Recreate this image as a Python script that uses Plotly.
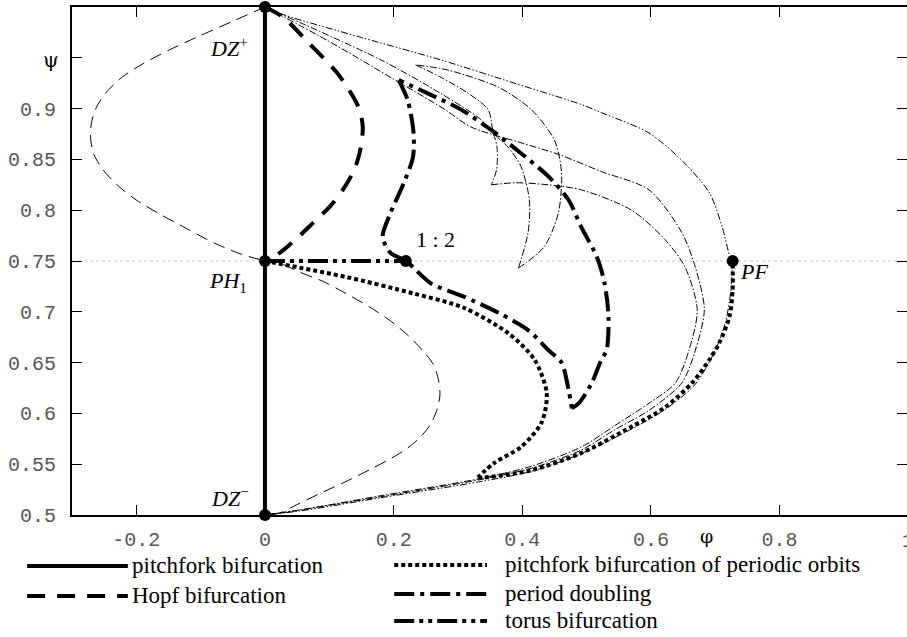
import plotly.graph_objects as go

# ---------------- data ----------------
pitchfork_phi = [0.0, 0.0]
pitchfork_psi = [0.5, 1.0]

hopf_phi = [0.0, 0.028, 0.069, 0.111, 0.131, 0.147, 0.152, 0.149, 0.139, 0.121, 0.100, 0.074, 0.049, 0.023, 0.0]
hopf_psi = [1.0, 0.990, 0.964, 0.936, 0.918, 0.899, 0.882, 0.862, 0.840, 0.820, 0.803, 0.787, 0.772, 0.758, 0.75]

hopf2_up_phi = [0.0, -0.050, -0.100, -0.148, -0.190, -0.224, -0.248, -0.263, -0.270, -0.271, -0.266, -0.252,
                -0.230, -0.200, -0.163, -0.122, -0.080, -0.038, 0.0]
hopf2_up_psi = [1.0, 0.986, 0.972, 0.958, 0.944, 0.930, 0.915, 0.900, 0.885, 0.870, 0.855, 0.840,
                0.825, 0.810, 0.796, 0.782, 0.768, 0.757, 0.75]

hopf2_lo_phi = [0.0, 0.023, 0.054, 0.090, 0.126, 0.162, 0.193, 0.222, 0.245, 0.262, 0.270, 0.272, 0.267,
                0.257, 0.242, 0.222, 0.197, 0.167, 0.126, 0.085, 0.049, 0.023, 0.0]
hopf2_lo_psi = [0.75, 0.748, 0.739, 0.730, 0.718, 0.705, 0.692, 0.677, 0.662, 0.648, 0.632, 0.618, 0.603,
                0.589, 0.577, 0.566, 0.556, 0.546, 0.533, 0.521, 0.510, 0.502, 0.5]

# period doubling (closed loop, split at cusps)
pd_a_phi = [0.208, 0.222, 0.231, 0.230, 0.216, 0.195, 0.183, 0.195, 0.219, 0.258, 0.309, 0.363, 0.409, 0.441, 0.461, 0.472, 0.477]
pd_a_psi = [0.928, 0.908, 0.876, 0.852, 0.827, 0.797, 0.774, 0.758, 0.75, 0.728, 0.715, 0.699, 0.682, 0.662, 0.650, 0.623, 0.605]
pd_b_phi = [0.477, 0.488, 0.508, 0.523, 0.531, 0.534, 0.528, 0.516, 0.492, 0.472, 0.441, 0.398, 0.356, 0.305, 0.253, 0.208]
pd_b_psi = [0.605, 0.610, 0.630, 0.653, 0.662, 0.695, 0.728, 0.754, 0.783, 0.810, 0.833, 0.856, 0.877, 0.899, 0.915, 0.928]

# torus bifurcation
torus_phi = [0.0, 0.219]
torus_psi = [0.75, 0.75]

# pitchfork bifurcation of periodic orbits
pfp_a_phi = [0.0, 0.128, 0.231, 0.309, 0.378, 0.419, 0.438, 0.430, 0.398, 0.356, 0.331]
pfp_a_psi = [0.75, 0.734, 0.718, 0.704, 0.679, 0.653, 0.620, 0.591, 0.567, 0.551, 0.537]
pfp_b_phi = [0.331, 0.341, 0.414, 0.492, 0.570, 0.622, 0.664, 0.691, 0.706, 0.722, 0.727, 0.727]
pfp_b_psi = [0.537, 0.537, 0.544, 0.561, 0.587, 0.606, 0.630, 0.653, 0.669, 0.695, 0.721, 0.75]

# thin torus-type curve DZ+ -> PF -> DZ-
t1_a_phi = [0.0, 0.031, 0.150, 0.273, 0.388, 0.492, 0.523, 0.597, 0.648, 0.691, 0.711, 0.723, 0.727]
t1_a_psi = [1.0, 0.992, 0.970, 0.948, 0.925, 0.904, 0.896, 0.876, 0.849, 0.817, 0.783, 0.754, 0.75]
t1_b_phi = [0.727, 0.724, 0.716, 0.700, 0.668, 0.620, 0.568, 0.490, 0.414, 0.336, 0.180, 0.055, 0.0]
t1_b_psi = [0.75, 0.72, 0.69, 0.662, 0.628, 0.603, 0.584, 0.560, 0.543, 0.533, 0.517, 0.504, 0.5]

# thin period-doubling-type curves
b1_phi = [0.0, 0.10, 0.20, 0.28, 0.32, 0.40, 0.456, 0.523, 0.597, 0.648, 0.669, 0.683, 0.669, 0.648, 0.597, 0.544, 0.492, 0.414, 0.336, 0.180, 0.055, 0.0]
b1_psi = [1.0, 0.966, 0.929, 0.899, 0.882, 0.866, 0.855, 0.838, 0.820, 0.778, 0.744, 0.702, 0.662, 0.630, 0.603, 0.584, 0.564, 0.546, 0.535, 0.518, 0.505, 0.5]

b2_a_phi = [0.0, 0.18, 0.273, 0.336, 0.355, 0.361, 0.360, 0.352]
b2_a_psi = [1.0, 0.948, 0.915, 0.889, 0.875, 0.860, 0.840, 0.825]
b2_b_phi = [0.352, 0.390, 0.440, 0.492, 0.570, 0.622, 0.653, 0.672, 0.659, 0.638, 0.597, 0.544, 0.492, 0.414, 0.336, 0.180, 0.055, 0.0]
b2_b_psi = [0.825, 0.827, 0.825, 0.820, 0.800, 0.771, 0.744, 0.702, 0.662, 0.630, 0.610, 0.588, 0.567, 0.548, 0.536, 0.519, 0.505, 0.5]

lens_a_phi = [0.234, 0.273, 0.316, 0.347, 0.356, 0.378, 0.398, 0.411, 0.409, 0.394]
lens_a_psi = [0.943, 0.931, 0.915, 0.899, 0.876, 0.862, 0.843, 0.810, 0.778, 0.743]
lens_b_phi = [0.394, 0.434, 0.456, 0.461, 0.450, 0.414, 0.363, 0.284, 0.234]
lens_b_psi = [0.743, 0.764, 0.797, 0.837, 0.869, 0.899, 0.921, 0.938, 0.943]

# special points: DZ+, PH1, DZ-, 1:2, PF
pts_phi = [0.0, 0.0, 0.0, 0.219, 0.727]
pts_psi = [1.0, 0.75, 0.5, 0.75, 0.75]

x_tickvals = [-0.2, 0, 0.2, 0.4, 0.6, 0.8]
x_ticktext = ["-0.2", "0", "0.2", "0.4", "0.6", "0.8"]
y_tickvals = [0.5, 0.55, 0.6, 0.65, 0.7, 0.75, 0.8, 0.85, 0.9, 1.0]
y_ticktext = ["0.5", "0.55", "0.6", "0.65", "0.7", "0.75", "0.8", "0.85", "0.9", "1"]
y_unlabelled_ticks = [0.95]

legend_left = ["pitchfork bifurcation", "Hopf bifurcation"]
legend_right = ["pitchfork bifurcation of periodic orbits", "period doubling", "torus bifurcation"]

# ---------------- layout constants ----------------
W, H = 909, 637          # 2px wider than the window: right frame edge falls just outside, as in the original
ML, MR, MT, MB = 72, 0, 7, 122
PW, PH = W - ML - MR, H - MT - MB
X_MAX = -0.3 + PW / 644.8

SERIF = "Liberation Serif, Times New Roman, serif"
MONO = "Liberation Mono, Courier New, monospace"
TICK_GRAY = "#555555"

SOLID = "solid"
DASH_THICK = "18px,12px"
DOT_THICK = "4px,3px"
PD_THICK = "20px,6px,4px,6px"
TORUS_THICK = "20px,5px,4px,5px,4px,5px"
THIN_DASH = "12px,7px"
THIN_PD = "7px,2px,1.5px,2px"
THIN_TORUS = "7px,2px,1.5px,2px,1.5px,2px"

fig = go.Figure()

def add(x, y, width, dash, shape="spline", smoothing=0.8):
    line = dict(color="black", width=width, dash=dash, shape=shape)
    if shape == "spline":
        line["smoothing"] = smoothing
    fig.add_trace(go.Scatter(x=x, y=y, mode="lines", showlegend=False, line=line,
                             hoverinfo="skip"))

# thin curves
add(hopf2_up_phi, hopf2_up_psi, 1, THIN_DASH)
add(hopf2_lo_phi, hopf2_lo_psi, 1, THIN_DASH)
add(t1_a_phi, t1_a_psi, 1, THIN_TORUS)
add(t1_b_phi, t1_b_psi, 1, THIN_TORUS)
add(b1_phi, b1_psi, 1, THIN_PD)
add(b2_a_phi, b2_a_psi, 1, THIN_PD)
add(b2_b_phi, b2_b_psi, 1, THIN_PD)
add(lens_a_phi, lens_a_psi, 1, THIN_PD)
add(lens_b_phi, lens_b_psi, 1, THIN_PD)

# thick curves
add(pfp_a_phi, pfp_a_psi, 4, DOT_THICK)
add(pfp_b_phi, pfp_b_psi, 4, DOT_THICK)
add(pd_a_phi, pd_a_psi, 4, PD_THICK)
add(pd_b_phi, pd_b_psi, 4, PD_THICK)
add(torus_phi, torus_psi, 4, TORUS_THICK, "linear")
add(hopf_phi, hopf_psi, 4, DASH_THICK)
add(pitchfork_phi, pitchfork_psi, 4, SOLID, "linear")

fig.add_trace(go.Scatter(x=pts_phi, y=pts_psi, mode="markers", showlegend=False,
                         marker=dict(color="black", size=12), cliponaxis=False, hoverinfo="skip"))

def px_x(p):
    return (p - ML) / PW

def px_y(p):
    return (H - MB - p) / PH

shapes = [dict(type="line", xref="paper", x0=0, x1=1, yref="y", y0=0.75, y1=0.75,
               line=dict(color="#c8c8c8", width=1, dash="dot"), layer="below")]
annotations = []

LEG_FONT = dict(family=SERIF, size=23, color="black")
left_rows = [(566, SOLID), (596, DASH_THICK)]
right_rows = [(565, DOT_THICK), (594, PD_THICK), (621, TORUS_THICK)]
for (py, dash), label in zip(left_rows, legend_left):
    shapes.append(dict(type="line", xref="paper", yref="paper", x0=px_x(27), x1=px_x(128),
                       y0=px_y(py), y1=px_y(py), line=dict(color="black", width=4, dash=dash)))
    annotations.append(dict(xref="paper", yref="paper", x=px_x(130), y=px_y(py - 1), text=label,
                            showarrow=False, xanchor="left", yanchor="middle", font=LEG_FONT))
for (py, dash), label in zip(right_rows, legend_right):
    shapes.append(dict(type="line", xref="paper", yref="paper", x0=px_x(395), x1=px_x(488),
                       y0=px_y(py), y1=px_y(py), line=dict(color="black", width=4, dash=dash)))
    annotations.append(dict(xref="paper", yref="paper", x=px_x(504), y=px_y(py - 1), text=label,
                            showarrow=False, xanchor="left", yanchor="middle", font=LEG_FONT))

lab_font = dict(family=SERIF, size=22, color="black")
annotations += [
    dict(x=-0.024, y=0.961, text="<i>DZ</i><sup>+</sup>", showarrow=False, xanchor="right", yanchor="middle", font=lab_font),
    dict(x=-0.025, y=0.729, text="<i>PH</i><sub>1</sub>", showarrow=False, xanchor="right", yanchor="middle", font=lab_font),
    dict(x=-0.022, y=0.518, text="<i>DZ</i><sup>−</sup>", showarrow=False, xanchor="right", yanchor="middle", font=lab_font),
    dict(x=0.265, y=0.771, text="1 : 2", showarrow=False, xanchor="center", yanchor="middle", font=lab_font),
    dict(x=0.735, y=0.740, text="<i>PF</i>", showarrow=False, xanchor="left", yanchor="middle", font=lab_font),
    dict(xref="paper", yref="paper", x=px_x(51), y=px_y(60), text="ψ", showarrow=False,
         xanchor="center", yanchor="middle", font=dict(family="DejaVu Serif", size=20, color="black")),
    dict(xref="paper", yref="paper", x=px_x(708), y=px_y(536), text="φ", showarrow=False,
         xanchor="center", yanchor="middle", font=dict(family="DejaVu Serif", size=19, color="black")),
    dict(xref="paper", yref="paper", x=px_x(910), y=px_y(541), text="1", showarrow=False,
         xanchor="center", yanchor="middle", font=dict(family=MONO, size=20, color=TICK_GRAY)),
]

axis_common = dict(showline=True, linecolor="black", linewidth=2, mirror="ticks",
                   ticks="inside", ticklen=10, tickwidth=1.2, tickcolor="black",
                   showgrid=False, zeroline=False,
                   tickfont=dict(family=MONO, size=20, color=TICK_GRAY))

fig.update_layout(
    width=W, height=H,
    margin=dict(l=ML, r=MR, t=MT, b=MB, pad=0),
    paper_bgcolor="white", plot_bgcolor="white",
    xaxis=dict(range=[-0.3, X_MAX], tickvals=x_tickvals, ticktext=x_ticktext,
               ticklabelstandoff=5, **axis_common),
    yaxis=dict(range=[0.5, 1.0], tickvals=y_tickvals, ticktext=y_ticktext,
               ticklabelstandoff=10,
               minor=dict(tickvals=y_unlabelled_ticks, ticks="inside", ticklen=10,
                          tickwidth=1.2, tickcolor="black", showgrid=False),
               **axis_common),
    shapes=shapes, annotations=annotations, showlegend=False,
)

fig.write_html("out.html", config={"displayModeBar": False},
               post_script="document.body.style.margin='0';document.body.style.overflow='hidden';")
